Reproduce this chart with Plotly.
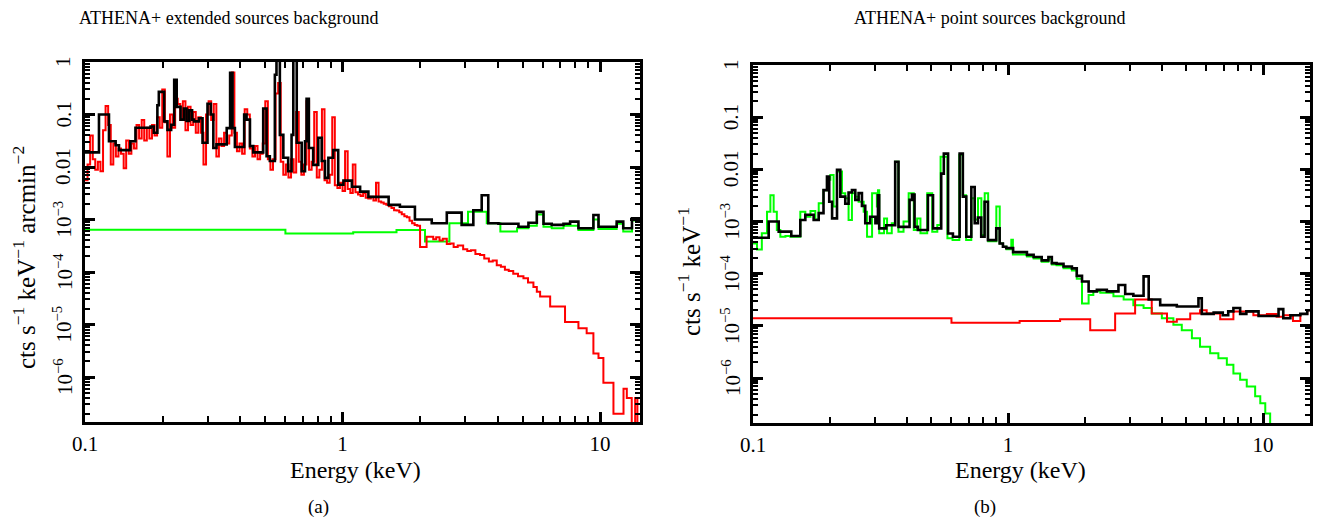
import math
import plotly.graph_objects as go

# ---------------- Panel (a): extended sources background ----------------
# bin start energies (keV) and rates; each series ends at the *_end energy
black_a_e = [0.100, 0.1133, 0.1239, 0.1315, 0.1355, 0.150, 0.157, 0.1797, 0.185, 0.191,
             0.1935, 0.203, 0.209, 0.216, 0.222, 0.227, 0.235, 0.242, 0.248, 0.254,
             0.2605, 0.265, 0.277, 0.286, 0.299, 0.308, 0.315, 0.324, 0.355, 0.366,
             0.374, 0.382, 0.415, 0.424, 0.437, 0.450, 0.492, 0.507, 0.522, 0.546,
             0.554, 0.571, 0.589, 0.615, 0.634, 0.644, 0.664, 0.694, 0.715, 0.725,
             0.740, 0.769, 0.805, 0.830, 0.855, 0.881, 0.920, 0.962, 1.008, 1.087,
             1.17, 1.26, 1.51, 1.67, 1.91, 2.22, 2.54, 2.90, 3.22, 3.47,
             3.68, 4.03, 4.82, 5.27, 5.68, 6.03, 6.49, 7.21, 7.65, 8.24,
             9.42, 9.86, 11.6, 12.3, 13.3]
black_a = [0.019, 0.10, 0.031, 0.026, 0.021, 0.031, 0.056, 0.059, 0.045, 0.15,
           0.27, 0.074, 0.051, 0.064, 0.46, 0.14, 0.080, 0.13, 0.075, 0.12,
           0.080, 0.074, 0.085, 0.029, 0.16, 0.10, 0.023, 0.027, 0.055, 0.62,
           0.055, 0.024, 0.10, 0.080, 0.025, 0.019, 0.13, 0.016, 0.013, 0.57,
           2.0, 0.041, 0.015, 0.0083, 0.041, 2.0, 0.029, 0.0083, 0.031, 0.20,
           0.023, 0.011, 0.036, 0.013, 0.0062, 0.015, 0.021, 0.0046, 0.0055, 0.0042,
           0.0034, 0.0027, 0.0019, 0.00175, 0.0010, 0.00085, 0.00135, 0.00079, 0.0015, 0.0029,
           0.00085, 0.00083, 0.00073, 0.00087, 0.0014, 0.00083, 0.00079, 0.00083, 0.00091, 0.00068,
           0.00122, 0.00073, 0.00091, 0.00068, 0.00105]
black_a_end = 14.5

green_a_e = [0.100, 0.60, 1.10, 1.62, 2.09, 2.60, 3.07, 3.63, 4.10, 4.76,
             5.27, 5.68, 6.03, 6.49, 7.21, 8.24, 9.42, 9.86, 11.6, 12.3, 13.3]
green_a = [6.4e-4, 5.4e-4, 5.7e-4, 6.3e-4, 3.8e-4, 8.5e-4, 1.4e-3, 8.5e-4, 5.9e-4, 6.8e-4,
           7.6e-4, 1.25e-3, 7.3e-4, 6.8e-4, 7.6e-4, 6.3e-4, 1.0e-3, 6.6e-4, 8.3e-4, 5.9e-4, 9.6e-4]
green_a_end = 14.5

red_a_soft_e = [0.1000, 0.1023, 0.1047, 0.1072, 0.1096, 0.1122, 0.1148, 0.1175, 0.1202, 0.1230,
                0.1259, 0.1288, 0.1318, 0.1349, 0.1380, 0.1413, 0.1445, 0.1479, 0.1514, 0.1549,
                0.1585, 0.1622, 0.1660, 0.1698, 0.1738, 0.1778, 0.1820, 0.1862, 0.1905, 0.1950,
                0.1995, 0.2042, 0.2089, 0.2138, 0.2188, 0.2239, 0.2291, 0.2344, 0.2399, 0.2455,
                0.2512, 0.2570, 0.2630, 0.2692, 0.2754, 0.2818, 0.2884, 0.2951, 0.3020, 0.3090,
                0.3162, 0.3236, 0.3311, 0.3388, 0.3467, 0.3548, 0.3631, 0.3715, 0.3802, 0.3890,
                0.3981, 0.4074, 0.4169, 0.4266, 0.4365, 0.4467, 0.4571, 0.4677, 0.4786, 0.4898,
                0.5012, 0.5129, 0.5248, 0.5370, 0.5495, 0.5623, 0.5754, 0.5888, 0.6026, 0.6166,
                0.6310, 0.6457, 0.6607, 0.6761, 0.6918, 0.7079, 0.7244, 0.7413, 0.7586, 0.7762,
                0.7943, 0.8128, 0.8318, 0.8511, 0.8710, 0.8913, 0.9120, 0.9333, 0.9550, 0.9772,
                1.000, 1.023, 1.047, 1.072, 1.096, 1.122, 1.148, 1.175, 1.202, 1.230,
                1.259, 1.288, 1.318, 1.349, 1.380, 1.413, 1.445, 1.479, 1.514, 1.549,
                1.585, 1.622, 1.660, 1.698, 1.738, 1.778, 1.820, 1.862, 1.905, 1.950]
red_a_soft = [5.6e-3, 1.12e-2, 4.0e-2, 1.41e-2, 8.9e-3, 1.26e-2, 8.3e-3, 5.0e-2, 0.145, 6.3e-2,
              1.12e-2, 2.8e-2, 1.58e-2, 2.24e-2, 1.78e-2, 9.5e-3, 3.2e-2, 1.78e-2, 2.8e-2, 2.24e-2,
              6.3e-2, 3.5e-2, 7.9e-2, 3.2e-2, 5.6e-2, 3.5e-2, 6.3e-2, 4.0e-2, 8.9e-2, 5.6e-2,
              0.30, 7.1e-2, 1.58e-2, 0.10, 5.6e-2, 0.20, 0.158, 7.9e-2, 0.178, 5.0e-2,
              0.141, 6.3e-2, 0.112, 4.5e-2, 8.9e-2, 4.5e-2, 1.12e-2, 0.10, 0.178, 7.9e-2,
              0.158, 1.58e-2, 3.5e-2, 2.5e-2, 4.5e-2, 2.8e-2, 4.0e-2, 0.63, 4.5e-2, 2.0e-2,
              2.8e-2, 1.78e-2, 0.126, 0.10, 2.24e-2, 1.58e-2, 2.5e-2, 1.41e-2, 1.78e-2, 2.8e-2,
              0.178, 1.41e-2, 8.9e-3, 1.41e-2, 0.25, 0.40, 1.26e-2, 7.1e-3, 1.12e-2, 6.3e-3,
              1.41e-2, 7.9e-3, 0.112, 1.26e-2, 7.1e-3, 1.12e-2, 0.178, 8.9e-3, 1.26e-2, 0.112,
              6.3e-3, 8.9e-3, 0.126, 5.6e-3, 5.0e-3, 7.1e-3, 8.9e-2, 4.5e-3, 4.0e-3, 5.0e-3,
              3.5e-3, 2.0e-2, 3.8e-3, 3.2e-3, 1.12e-2, 3.3e-3, 3.0e-3, 2.8e-3, 3.2e-3, 2.6e-3,
              2.5e-3, 2.7e-3, 2.3e-3, 5.0e-3, 2.2e-3, 2.1e-3, 2.0e-3, 1.9e-3, 1.78e-3, 1.66e-3,
              1.5e-3, 1.48e-3, 1.38e-3, 1.26e-3, 1.15e-3, 1.1e-3, 9.5e-4, 8.5e-4, 7.9e-4, 7.6e-4]
red_a_hard_e = [2.00, 2.12, 2.25, 2.31, 2.38, 2.45, 2.54, 2.62, 2.70, 2.80,
                2.94, 3.05, 3.15, 3.28, 3.42, 3.55, 3.70, 3.83, 3.97, 4.12,
                4.27, 4.42, 4.60, 4.80, 5.04, 5.25, 5.51, 5.68, 5.85, 6.40,
                7.31, 8.24, 8.87, 9.42, 9.86, 10.3, 11.27, 12.33, 12.7, 13.27,
                13.68, 13.96]
red_a_hard = [3.0e-4, 4.7e-4, 4.2e-4, 4.6e-4, 4.0e-4, 4.3e-4, 3.4e-4, 3.5e-4, 3.0e-4, 3.2e-4,
              2.7e-4, 2.5e-4, 2.6e-4, 2.2e-4, 2.1e-4, 1.8e-4, 1.58e-4, 1.66e-4, 1.35e-4, 1.26e-4,
              1.1e-4, 1.05e-4, 9.3e-5, 8.3e-5, 7.6e-5, 6.3e-5, 5.2e-5, 4.2e-5, 3.4e-5, 2.2e-5,
              1.12e-5, 8.5e-6, 6.8e-6, 2.8e-6, 2.3e-6, 7.8e-7, 2.0e-7, 6.0e-7, 4.0e-7, 1e-8,
              4.0e-7, 1e-8]
red_a_end = 14.5

# ---------------- Panel (b): point sources background ----------------
black_b_e = [0.100, 0.1152, 0.1261, 0.1413, 0.1533, 0.1604, 0.1729, 0.181, 0.189, 0.195,
             0.199, 0.2042, 0.2135, 0.2200, 0.230, 0.237, 0.2443, 0.2518, 0.2594, 0.2674,
             0.2755, 0.288, 0.302, 0.309, 0.3125, 0.333, 0.361, 0.372, 0.411, 0.420,
             0.430, 0.443, 0.485, 0.508, 0.547, 0.560, 0.582, 0.608, 0.646, 0.665,
             0.686, 0.718, 0.740, 0.762, 0.785, 0.809, 0.834, 0.899, 0.927, 0.955,
             0.984, 1.047, 1.186, 1.26, 1.355, 1.44, 1.485, 1.55, 1.65, 1.78,
             1.86, 1.95, 2.07, 2.23, 2.44, 2.71, 2.88, 3.10, 3.40, 3.56,
             3.95, 4.59, 5.58, 5.75, 6.40, 6.95, 7.30, 7.65, 8.13, 8.60,
             9.16, 9.60, 11.5, 12.0, 12.8, 14.0, 14.9]
black_b = [4.9e-4, 1.0e-3, 6.4e-4, 5.3e-4, 1.07e-3, 1.35e-3, 1.07e-3, 1.45e-3, 4.0e-3, 7.3e-3,
           2.4e-3, 1.15e-3, 9.8e-3, 3.0e-3, 2.2e-3, 3.6e-3, 4.0e-3, 2.6e-3, 3.5e-3, 2.0e-3,
           9.3e-4, 1.24e-3, 9.3e-4, 3.2e-3, 7.4e-4, 8.5e-4, 0.014, 7.9e-4, 2.6e-3, 3.3e-3,
           7.9e-4, 6.9e-4, 3.2e-3, 7.4e-4, 8.3e-3, 0.020, 5.9e-4, 5.1e-4, 0.020, 3.0e-3,
           5.1e-4, 4.6e-3, 9.3e-4, 1.2e-3, 5.1e-4, 2.4e-3, 4.4e-4, 7.4e-4, 3.8e-4, 3.3e-4,
           3.1e-4, 2.6e-4, 2.3e-4, 2.1e-4, 1.8e-4, 2.1e-4, 1.6e-4, 1.55e-4, 1.38e-4, 1.27e-4,
           9.1e-5, 7.1e-5, 4.6e-5, 4.9e-5, 4.6e-5, 6.1e-5, 4.1e-5, 3.8e-5, 8.9e-5, 3.2e-5,
           2.5e-5, 2.35e-5, 3.4e-5, 1.7e-5, 1.8e-5, 1.6e-5, 1.9e-5, 2.2e-5, 1.7e-5, 1.9e-5,
           1.9e-5, 1.55e-5, 2.1e-5, 1.4e-5, 1.6e-5, 1.7e-5, 2.0e-5]
black_b_end = 15.3

green_b_e = [0.100, 0.1037, 0.1083, 0.1135, 0.117, 0.1205, 0.124, 0.128, 0.134, 0.140,
             0.1533, 0.1604, 0.168, 0.1755, 0.181, 0.189, 0.195, 0.201, 0.207, 0.2133,
             0.2233, 0.230, 0.237, 0.2443, 0.2518, 0.2594, 0.2716, 0.280, 0.293, 0.306,
             0.309, 0.3125, 0.3265, 0.3355, 0.350, 0.3607, 0.3717, 0.3893, 0.4077, 0.427,
             0.440, 0.4535, 0.482, 0.5044, 0.528, 0.5439, 0.5785, 0.6059, 0.6442, 0.6642,
             0.685, 0.7175, 0.7397, 0.7626, 0.786, 0.810, 0.8356, 0.8997, 0.9277, 0.956,
             0.986, 1.030, 1.045, 1.186, 1.26, 1.355, 1.44, 1.485, 1.55, 1.65,
             1.78, 1.86, 1.95, 2.07, 2.16, 2.30, 2.59, 2.84, 3.10, 3.40,
             3.66, 4.01, 4.45, 4.80, 5.26, 5.66, 6.20, 6.68, 7.21, 7.65,
             8.13, 8.63, 9.31, 9.75, 10.2, 10.66]
green_b = [3.8e-4, 2.9e-4, 6.0e-4, 1.55e-3, 3.2e-3, 1.55e-3, 6.9e-4, 5.1e-4, 5.3e-4, 5.1e-4,
           1.55e-3, 1.24e-3, 1.6e-3, 1.1e-3, 2.24e-3, 4.0e-3, 6.3e-3, 7.8e-3, 1.94e-3, 9.1e-3,
           3.5e-3, 2.8e-3, 1.07e-3, 3.5e-3, 3.0e-3, 2.4e-3, 1.55e-3, 5.1e-4, 3.5e-3, 1.94e-3,
           4.0e-3, 6.0e-4, 1.15e-3, 6.0e-4, 9.3e-4, 0.014, 6.4e-4, 1.0e-3, 3.5e-3, 6.9e-4,
           1.15e-3, 6.0e-4, 3.5e-3, 6.4e-4, 8.6e-4, 0.0175, 4.8e-4, 4.45e-4, 0.019, 3.2e-3,
           4.45e-4, 2.8e-3, 1.1e-3, 2.8e-3, 5.5e-4, 3.5e-3, 4.2e-4, 1.94e-3, 3.8e-4, 3.3e-4,
           2.95e-4, 4.5e-4, 2.35e-4, 2.15e-4, 1.95e-4, 1.7e-4, 1.9e-4, 1.5e-4, 1.45e-4, 1.28e-4,
           1.15e-4, 8.0e-5, 2.7e-5, 3.9e-5, 4.6e-5, 4.3e-5, 3.7e-5, 3.2e-5, 2.5e-5, 2.2e-5,
           1.74e-5, 1.4e-5, 1.05e-5, 8.3e-6, 5.8e-6, 4.0e-6, 3.0e-6, 2.4e-6, 1.8e-6, 1.23e-6,
           9.3e-7, 6.9e-7, 4.5e-7, 3.3e-7, 2.1e-7, 1e-8]
green_b_end = 15.3

red_b_e = [0.100, 0.60, 1.11, 1.60, 2.10, 2.63, 3.15, 3.66, 4.20, 4.59,
           5.18, 5.66, 6.01, 6.79, 7.65, 9.16, 10.35, 11.3, 12.0, 13.1,
           14.0, 14.9]
red_b = [1.4e-5, 1.15e-5, 1.25e-5, 1.35e-5, 8.3e-6, 1.74e-5, 3.2e-5, 1.74e-5, 1.2e-5, 1.35e-5,
         1.74e-5, 2.0e-5, 1.74e-5, 1.35e-5, 1.9e-5, 1.6e-5, 1.7e-5, 1.5e-5, 1.6e-5, 1.25e-5,
         1.7e-5, 2.0e-5]
red_b_end = 15.3

# ---------------- tick positions and labels ----------------
x_tickvals = [0.1, 1, 10]
x_ticktext = ["0.1", "1", "10"]
x_minor = [0.2, 0.3, 0.4, 0.5, 0.6, 0.7, 0.8, 0.9, 2, 3, 4, 5, 6, 7, 8, 9]
y_tickvals = [1e-6, 1e-5, 1e-4, 1e-3, 0.01, 0.1, 1]
y_ticktext = ["10<sup>\u22126</sup>", "10<sup>\u22125</sup>", "10<sup>\u22124</sup>",
              "10<sup>\u22123</sup>", "0.01", "0.1", "1"]
y_minor = [m * 10.0 ** k for k in range(-7, 0) for m in range(2, 10)]

FONT = "Liberation Serif"
W, H = 1326, 524


def steps(starts, values, end):
    """Histogram outline: each value spans from its start energy to the next."""
    return list(starts) + [end], list(values) + [values[-1]]


fig = go.Figure()


def add_step(starts, values, end, color, width, xa, ya):
    x, y = steps(starts, values, end)
    fig.add_trace(go.Scatter(x=x, y=y, mode="lines", line=dict(color=color, width=width, shape="hv"),
                             xaxis=xa, yaxis=ya, showlegend=False, hoverinfo="skip"))


# panel (a)
add_step(green_a_e, green_a, green_a_end, "#00ff00", 2, "x", "y")
add_step(red_a_soft_e + red_a_hard_e, red_a_soft + red_a_hard, red_a_end, "#ff0000", 2, "x", "y")
add_step(black_a_e, black_a, black_a_end, "#000000", 2.6, "x", "y")
# panel (b)
add_step(green_b_e, green_b, green_b_end, "#00ff00", 2, "x2", "y2")
add_step(red_b_e, red_b, red_b_end, "#ff0000", 2, "x2", "y2")
add_step(black_b_e, black_b, black_b_end, "#000000", 2.6, "x2", "y2")


def xaxis(domain, rng, anchor):
    return dict(type="log", domain=domain, range=rng, anchor=anchor, automargin=False,
                tickvals=x_tickvals, ticktext=x_ticktext,
                ticks="inside", ticklen=10, tickwidth=2.5, tickcolor="black",
                showline=True, linewidth=3, linecolor="black", mirror="allticks",
                showgrid=False, zeroline=False, ticklabelstandoff=1,
                tickfont=dict(family=FONT, size=21, color="black"),
                minor=dict(tickvals=x_minor, ticks="inside", ticklen=6, tickwidth=2,
                           tickcolor="black", showgrid=False))


def yaxis(domain, rng, anchor):
    # tick labels are drawn as rotated annotations below
    return dict(type="log", domain=domain, range=rng, anchor=anchor, automargin=False,
                tickvals=y_tickvals, showticklabels=False,
                ticks="inside", ticklen=10, tickwidth=2.5, tickcolor="black",
                showline=True, linewidth=3, linecolor="black", mirror="allticks",
                showgrid=False, zeroline=False,
                minor=dict(tickvals=y_minor, ticks="inside", ticklen=5, tickwidth=1.5,
                           tickcolor="black", showgrid=False))


fig.update_layout(
    template="none",
    width=W, height=H,
    margin=dict(l=0, r=0, t=0, b=0),
    paper_bgcolor="white", plot_bgcolor="white",
    xaxis=xaxis([85 / W, 640 / W], [-1, 1.155], "y"),
    yaxis=yaxis([1 - 422 / H, 1 - 62 / H], [-6.857, 0], "x"),
    xaxis2=xaxis([753 / W, 1310 / W], [-1, 1.184], "y2"),
    yaxis2=yaxis([1 - 423 / H, 1 - 65 / H], [-6.86, 0], "x2"),
    font=dict(family=FONT, color="black"),
)


def label(text, x, y, size, angle=0):
    fig.add_annotation(text=text, x=x / W, y=1 - y / H, xref="paper", yref="paper",
                       showarrow=False, textangle=angle, xanchor="center", yanchor="middle",
                       font=dict(family=FONT, size=size, color="black"))


# rotated y tick labels, placed on the log axes at each decade
for yref, xpos in (("y", 63), ("y2", 731)):
    for val, txt in zip(y_tickvals, y_ticktext):
        fig.add_annotation(text=txt, x=xpos / W, y=math.log10(val), xref="paper", yref=yref,
                           showarrow=False, textangle=-90, xanchor="center", yanchor="middle",
                           font=dict(family=FONT, size=21, color="black"))

label("ATHENA+ extended sources background", 229, 18, 18)
label("ATHENA+ point sources background", 990, 18, 18)
label("Energy (keV)", 355, 470, 24)
label("Energy (keV)", 1020, 470, 24)
label("(a)", 318, 507, 19)
label("(b)", 985, 507, 19)
label("cts s<sup>\u22121</sup> keV<sup>\u22121</sup> arcmin<sup>\u22122</sup>", 24, 258, 25, -90)
label("cts s<sup>\u22121</sup> keV<sup>\u22121</sup>", 689, 272, 25, -90)

fig.write_html("out.html")
